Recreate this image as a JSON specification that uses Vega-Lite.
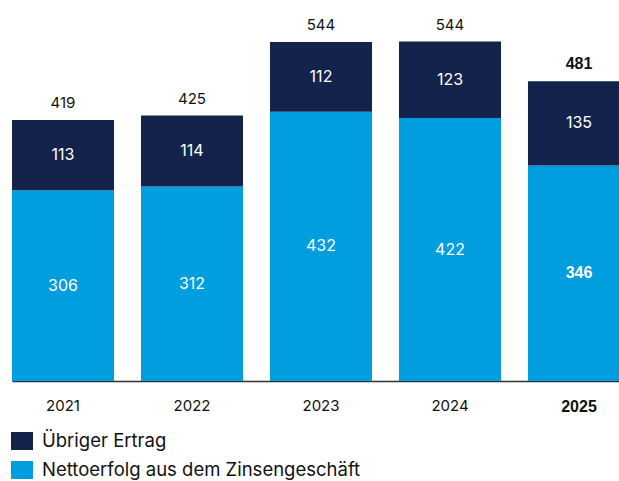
{
  "$schema": "https://vega.github.io/schema/vega-lite/v6.json",
  "width": 618,
  "height": 381,
  "autosize": "none",
  "padding": {"left": 12, "top": 0, "right": 0, "bottom": 100},
  "background": "white",
  "config": {
    "view": {"stroke": null},
    "font": "Inter",
    "axis": {"grid": false}
  },
  "datasets": {
    "parts": [
      {"year": "2021", "type": "Nettoerfolg aus dem Zinsengeschäft", "ord": 1, "value": 306},
      {"year": "2021", "type": "Übriger Ertrag", "ord": 2, "value": 113},
      {"year": "2022", "type": "Nettoerfolg aus dem Zinsengeschäft", "ord": 1, "value": 312},
      {"year": "2022", "type": "Übriger Ertrag", "ord": 2, "value": 114},
      {"year": "2023", "type": "Nettoerfolg aus dem Zinsengeschäft", "ord": 1, "value": 432},
      {"year": "2023", "type": "Übriger Ertrag", "ord": 2, "value": 112},
      {"year": "2024", "type": "Nettoerfolg aus dem Zinsengeschäft", "ord": 1, "value": 422},
      {"year": "2024", "type": "Übriger Ertrag", "ord": 2, "value": 123},
      {"year": "2025", "type": "Nettoerfolg aus dem Zinsengeschäft", "ord": 1, "value": 346},
      {"year": "2025", "type": "Übriger Ertrag", "ord": 2, "value": 135}
    ],
    "totals": [
      {"year": "2021", "total": 419},
      {"year": "2022", "total": 425},
      {"year": "2023", "total": 544},
      {"year": "2024", "total": 544},
      {"year": "2025", "total": 481}
    ]
  },
  "encoding": {
    "x": {
      "field": "year", "type": "ordinal",
      "scale": {"paddingInner": 0.209, "paddingOuter": 0},
      "axis": {
        "title": null, "ticks": false, "tickSize": 0, "labelAngle": 0,
        "labelFont": {"condition": {"test": "datum.value == '2025'", "value": "Liberation Sans"}, "value": "Inter"},
        "labelFontWeight": {"condition": {"test": "datum.value == '2025'", "value": "bold"}, "value": "normal"},
        "labelFontSize": {"condition": {"test": "datum.value == '2025'", "value": 16}, "value": 15},
        "labelColor": "#111111", "labelPadding": 17, "labelBaseline": "top",
        "domainColor": "#333333", "domainWidth": 1.5
      }
    }
  },
  "layer": [
    {
      "data": {"name": "parts"},
      "transform": [
        {"stack": "value", "groupby": ["year"], "sort": [{"field": "ord", "order": "ascending"}], "as": ["v0", "v1"]},
        {"calculate": "(datum.v0 + datum.v1) / 2", "as": "mid"}
      ],
      "layer": [
        {
          "mark": {"type": "bar"},
          "encoding": {
            "y": {"field": "v0", "type": "quantitative", "scale": {"domain": [0, 611.5], "nice": false, "zero": true}, "axis": null},
            "y2": {"field": "v1"},
            "color": {
              "field": "type", "type": "nominal",
              "scale": {"domain": ["Übriger Ertrag", "Nettoerfolg aus dem Zinsengeschäft"], "range": ["#13234b", "#009ddf"]},
              "legend": {
                "title": null, "orient": "none", "legendX": 0, "legendY": 431, "direction": "vertical",
                "symbolType": "M-1.1,-0.9H1.1V0.9H-1.1Z", "symbolSize": 400, "symbolStrokeWidth": 0,
                "labelFontSize": 18.5, "labelColor": "#111111", "labelOffset": 10, "rowPadding": 9, "padding": 0,
                "labelFont": "Inter", "labelLimit": 0
              }
            }
          }
        },
        {
          "transform": [{"filter": "!(datum.year == '2025' && datum.ord == 1)"}],
          "mark": {"type": "text", "color": "white", "fontSize": 16, "font": "Inter"},
          "encoding": {
            "y": {"field": "mid", "type": "quantitative"},
            "text": {"field": "value", "type": "quantitative"}
          }
        },
        {
          "transform": [{"filter": "datum.year == '2025' && datum.ord == 1"}],
          "mark": {"type": "text", "color": "white", "fontSize": 16, "font": "Liberation Sans", "fontWeight": "bold"},
          "encoding": {
            "y": {"field": "mid", "type": "quantitative"},
            "text": {"field": "value", "type": "quantitative"}
          }
        }
      ]
    },
    {
      "data": {"name": "totals"},
      "transform": [{"filter": "datum.year != '2025'"}],
      "mark": {"type": "text", "color": "#111111", "fontSize": 15, "font": "Inter", "baseline": "bottom", "dy": -9},
      "encoding": {
        "y": {"field": "total", "type": "quantitative"},
        "text": {"field": "total", "type": "quantitative"}
      }
    },
    {
      "data": {"name": "totals"},
      "transform": [{"filter": "datum.year == '2025'"}],
      "mark": {"type": "text", "color": "#111111", "fontSize": 16, "font": "Liberation Sans", "fontWeight": "bold", "baseline": "bottom", "dy": -9},
      "encoding": {
        "y": {"field": "total", "type": "quantitative"},
        "text": {"field": "total", "type": "quantitative"}
      }
    }
  ]
}
